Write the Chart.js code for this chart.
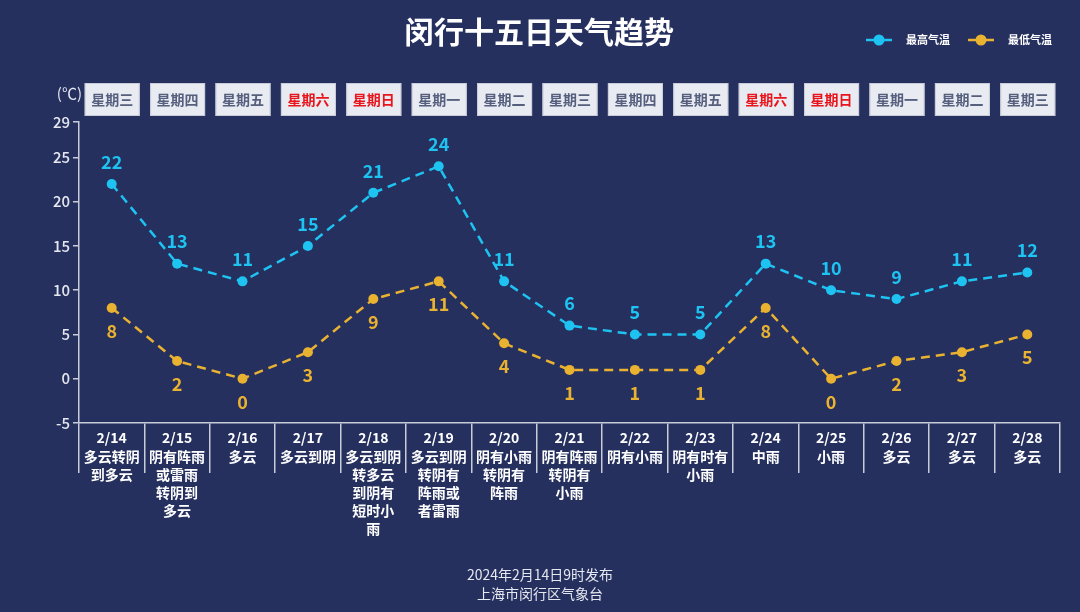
<!DOCTYPE html>
<html><head><meta charset="utf-8">
<script src="https://cdn.jsdelivr.net/npm/chart.js@4/dist/chart.umd.min.js"></script>
<style>html,body{margin:0;padding:0;background:#25305f;}#wrap{width:1080px;height:612px;}</style>
</head><body><div id="wrap"><canvas id="c" width="1080" height="612"></canvas></div>
<script>
const dates = ['2/14','2/15','2/16','2/17','2/18','2/19','2/20','2/21','2/22','2/23','2/24','2/25','2/26','2/27','2/28'];
const weathers = ['多云转阴到多云','阴有阵雨或雷雨转阴到多云','多云','多云到阴','多云到阴转多云到阴有短时小雨','多云到阴转阴有阵雨或者雷雨','阴有小雨转阴有阵雨','阴有阵雨转阴有小雨','阴有小雨','阴有时有小雨','中雨','小雨','多云','多云','多云'];
const weekdays = ['星期三','星期四','星期五','星期六','星期日','星期一','星期二','星期三','星期四','星期五','星期六','星期日','星期一','星期二','星期三'];
const highs = [22,13,11,15,21,24,11,6,5,5,13,10,9,11,12];
const lows = [8,2,0,3,9,11,4,1,1,1,8,0,2,3,5];
const yTicks = [-5,0,5,10,15,20,25,29];
const seriesNames = ['最高气温','最低气温'];
const titleText = '闵行十五日天气趋势';
const footerLines = ['2024年2月14日9时发布','上海市闵行区气象台'];

const FONT = '"Noto Sans CJK SC","Noto Sans",sans-serif';
const HIGH = '#1ec3f2', LOW = '#e9b230';

function wrap(s){const out=[s.slice(0,4)];for(let i=4;i<s.length;i+=3)out.push(s.slice(i,i+3));return out;}
const labels = dates.map((d,i)=>[d].concat(wrap(weathers[i])));

const deco = {
  id:'deco',
  beforeDraw(chart){
    const ctx=chart.ctx;ctx.save();ctx.fillStyle='#25305f';ctx.fillRect(0,0,chart.width,chart.height);ctx.restore();
  },
  afterDatasetsDraw(chart){
    const ctx=chart.ctx;
    ctx.save();
    [0,1].forEach(di=>{
      const meta=chart.getDatasetMeta(di);
      const data=chart.data.datasets[di].data;
      ctx.font='bold 18px '+FONT;
      ctx.textAlign='center';ctx.textBaseline='middle';
      ctx.fillStyle=di===0?HIGH:LOW;
      meta.data.forEach((p,i)=>{
        ctx.fillText(String(data[i]), p.x, di===0? p.y-22 : p.y+23);
      });
    });
    ctx.restore();
  },
  afterDraw(chart){
    const ctx=chart.ctx, xs=chart.scales.x;
    ctx.save();
    ctx.fillStyle='#ffffff';ctx.font='bold 30px '+FONT;ctx.textAlign='center';ctx.textBaseline='middle';
    ctx.fillText(titleText, 539, 32);
    const legendItems=[{x:866,c:HIGH,t:seriesNames[0]},{x:968,c:LOW,t:seriesNames[1]}];
    legendItems.forEach(it=>{
      ctx.strokeStyle=it.c;ctx.lineWidth=2.5;ctx.beginPath();ctx.moveTo(it.x,40);ctx.lineTo(it.x+26,40);ctx.stroke();
      ctx.fillStyle=it.c;ctx.beginPath();ctx.arc(it.x+13,40,5.5,0,Math.PI*2);ctx.fill();
      ctx.fillStyle='#ffffff';ctx.font='bold 11px '+FONT;ctx.textAlign='left';ctx.textBaseline='middle';
      ctx.fillText(it.t,it.x+40,40);
    });
    ctx.fillStyle='#e6e8f0';ctx.font='15px '+FONT;ctx.textAlign='right';ctx.textBaseline='middle';
    ctx.fillText('(℃)',82,93);
    weekdays.forEach((w,i)=>{
      const cx=xs.getPixelForValue(i);
      ctx.fillStyle='#e9ebf2';ctx.fillRect(cx-27,83,55,33);
      ctx.strokeStyle='#c8ccd8';ctx.lineWidth=1;ctx.strokeRect(cx-27+0.5,83.5,54,32);
      ctx.fillStyle=(w==='星期六'||w==='星期日')?'#e8161c':'#56607e';
      ctx.font='bold 14px '+FONT;ctx.textAlign='center';ctx.textBaseline='middle';
      ctx.fillText(w,cx+0.5,99.5);
    });
    ctx.fillStyle='#e6e8f0';ctx.font='14px '+FONT;ctx.textAlign='center';
    ctx.fillText(footerLines[0],540,575);
    ctx.fillText(footerLines[1],540,594);
    ctx.restore();
  }
};

new Chart(document.getElementById('c'),{
  type:'line',
  data:{labels:labels,datasets:[
    {label:seriesNames[0],data:highs,borderColor:HIGH,backgroundColor:HIGH,borderWidth:2.5,borderDash:[9,6],pointRadius:5,pointHoverRadius:5,pointBackgroundColor:HIGH,pointBorderWidth:0,tension:0},
    {label:seriesNames[1],data:lows,borderColor:LOW,backgroundColor:LOW,borderWidth:2.5,borderDash:[9,6],pointRadius:5,pointHoverRadius:5,pointBackgroundColor:LOW,pointBorderWidth:0,tension:0}
  ]},
  options:{
    responsive:false,animation:false,
    layout:{padding:{left:0,right:20,top:122,bottom:0}},
    plugins:{legend:{display:false},title:{display:false},tooltip:{enabled:false}},
    scales:{
      x:{
        offset:true,
        afterFit(s){s.height=189;},
        grid:{display:true,offset:true,drawOnChartArea:false,drawTicks:true,tickLength:50,color:'#c8ccd8',lineWidth:1.5},
        border:{display:true,color:'#c8ccd8',width:1.5},
        ticks:{color:'#ffffff',font:{family:FONT,size:14,weight:'bold',lineHeight:1.3},padding:-44,maxRotation:0,autoSkip:false}
      },
      y:{
        min:-5,max:29,
        afterFit(s){s.width=79;},
        afterBuildTicks(s){s.ticks=yTicks.map(v=>({value:v}));},
        grid:{display:true,drawOnChartArea:false,drawTicks:true,tickLength:6,color:'#c8ccd8',lineWidth:1.5},
        border:{display:true,color:'#c8ccd8',width:1.5},
        ticks:{color:'#e6e8f0',font:{family:FONT,size:15,weight:'500'},padding:3}
      }
    }
  },
  plugins:[deco]
});
</script></body></html>
